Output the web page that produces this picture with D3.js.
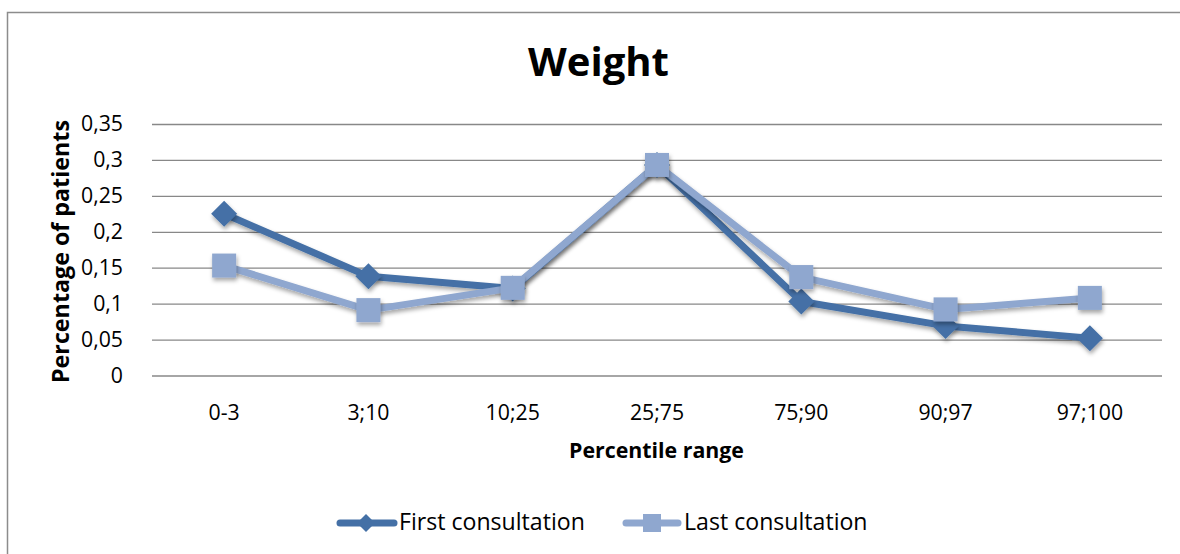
<!DOCTYPE html>
<html><head><meta charset="utf-8">
<script src="https://cdn.jsdelivr.net/npm/d3@7"></script>
<style>body{margin:0;background:#fff}svg{display:block}</style>
</head><body>
<svg id="c" width="1180" height="554"></svg>
<script>
const categories = ["0-3","3;10","10;25","25;75","75;90","90;97","97;100"];
const firstConsult = [0.225,0.138,0.121,0.293,0.103,0.069,0.052];
const lastConsult  = [0.153,0.091,0.122,0.293,0.137,0.092,0.108];
const yTicks = [0,0.05,0.1,0.15,0.2,0.25,0.3,0.35];
const seriesNames = ["First consultation","Last consultation"];

const svg = d3.select("#c");
const font = "'Open Sans', 'Liberation Sans', sans-serif";
const dark = "#4470a6", light = "#8fa7cf";

// size a font so that a sample text has a given width
function fitSize(text, width, weight){
  const t = svg.append("text").attr("font-family",font).attr("font-weight",weight||"normal")
    .attr("font-size",100).text(text);
  const w = t.node().getComputedTextLength(); t.remove();
  return 100*width/w;
}
const tickSize = fitSize("0,35",42);
const legSize = fitSize("First consultation",186);
const titleSize = fitSize("Weight",141,"bold");
const xTitleSize = fitSize("Percentile range",175,"bold");
const yTitleSize = fitSize("Percentage of patients",263,"bold");

svg.append("rect").attr("x",7.5).attr("y",12.5).attr("width",1200).attr("height",600)
  .attr("fill","#fff").attr("stroke","#8c8c8c").attr("stroke-width",1.5);

const L=152,R=1162,T=124,B=375.5;
const x = d3.scaleBand().domain(categories).range([L,R]);
const y = d3.scaleLinear().domain([0,0.35]).range([B,T]);

const defs = svg.append("defs");
const f = defs.append("filter").attr("id","sh").attr("x","-50%").attr("y","-50%").attr("width","200%").attr("height","200%");
f.append("feDropShadow").attr("dx",1).attr("dy",3).attr("stdDeviation",2).attr("flood-color","#000").attr("flood-opacity",0.35);

const ya = d3.axisLeft(y).tickValues(yTicks).tickSize(-(R-L)).tickPadding(29)
  .tickFormat(d=>String(d).replace(".",","));
const gy = svg.append("g").attr("transform",`translate(${L},0)`).call(ya);
gy.select(".domain").remove();
gy.selectAll("line").attr("stroke","#888").attr("stroke-width",1.3);
gy.selectAll("text").attr("font-family",font).attr("font-size",tickSize).attr("fill","#000");

const xa = d3.axisBottom(x).tickSize(0).tickPadding(0);
const gx = svg.append("g").attr("transform",`translate(0,${B})`).call(xa);
gx.select(".domain").remove();
gx.selectAll("text").attr("dy",null).attr("y",44).attr("font-family",font).attr("font-size",tickSize).attr("fill","#000");

const cx = d=>x(d)+x.bandwidth()/2;
const line = d3.line().x((d,i)=>cx(categories[i])).y(d=>y(d));

function drawSeries(vals,color,shape){
  svg.append("path").datum(vals).attr("d",line).attr("fill","none").attr("stroke",color)
    .attr("stroke-width",7).attr("stroke-linejoin","round").attr("filter","url(#sh)");
  const g = svg.append("g").attr("filter","url(#sh)");
  vals.forEach((v,i)=>{
    const px=cx(categories[i]), py=y(v);
    if(shape==="diamond"){
      g.append("path").attr("d",`M${px},${py-13}L${px+13},${py}L${px},${py+13}L${px-13},${py}Z`).attr("fill",color);
    } else {
      g.append("rect").attr("x",px-12).attr("y",py-12).attr("width",24).attr("height",24).attr("fill",color);
    }
  });
}
drawSeries(firstConsult,dark,"diamond");
drawSeries(lastConsult,light,"square");

svg.append("text").attr("x",598.5).attr("y",76).attr("text-anchor","middle")
  .attr("font-family",font).attr("font-weight","bold").attr("font-size",titleSize).text("Weight");
svg.append("text").attr("transform","translate(69,251.5) rotate(-90)").attr("text-anchor","middle")
  .attr("font-family",font).attr("font-weight","bold").attr("font-size",yTitleSize).text("Percentage of patients");
svg.append("text").attr("x",656.5).attr("y",457.5).attr("text-anchor","middle")
  .attr("font-family",font).attr("font-weight","bold").attr("font-size",xTitleSize).text("Percentile range");

const leg=[{x0:337,x1:397,m:366,tx:399,c:dark,s:"diamond"},{x0:623,x1:681,m:652,tx:684,c:light,s:"square"}];
leg.forEach((l,i)=>{
  const yy=523;
  svg.append("line").attr("x1",l.x0+3).attr("x2",l.x1-3).attr("y1",yy).attr("y2",yy)
    .attr("stroke",l.c).attr("stroke-width",7).attr("stroke-linecap","round");
  if(l.s==="diamond") svg.append("path").attr("d",`M${l.m},${yy-9}L${l.m+9},${yy}L${l.m},${yy+9}L${l.m-9},${yy}Z`).attr("fill",l.c);
  else svg.append("rect").attr("x",l.m-9).attr("y",yy-9).attr("width",18).attr("height",18).attr("fill",l.c);
  svg.append("text").attr("x",l.tx).attr("y",yy+7).attr("font-family",font).attr("font-size",legSize).text(seriesNames[i]);
});
</script>
</body></html>
